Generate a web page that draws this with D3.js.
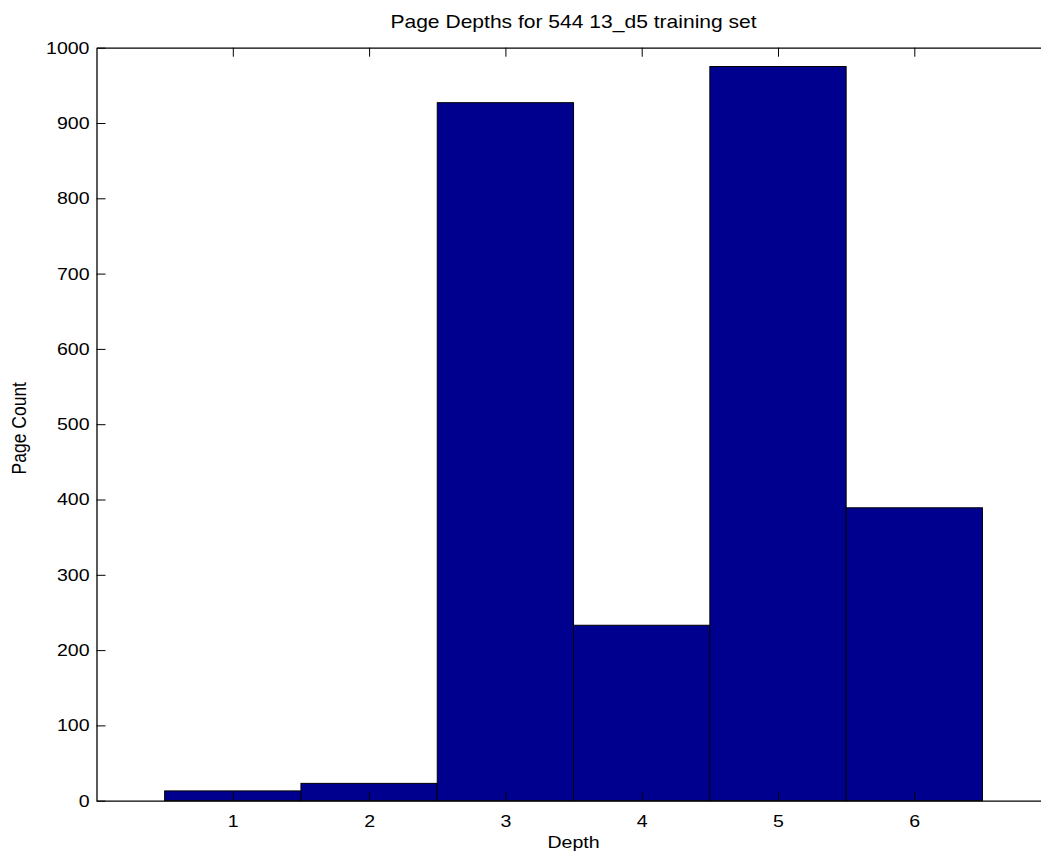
<!DOCTYPE html>
<html>
<head>
<meta charset="utf-8">
<script src="https://cdn.jsdelivr.net/npm/d3@7"></script>
<style>
  html, body { margin: 0; padding: 0; background: #fff; overflow: hidden; }
  svg { display: block; font-family: "Liberation Sans", Arial, sans-serif; }
</style>
</head>
<body>
<svg id="chart" width="1041" height="854"></svg>
<script>
// Histogram of page depths
const depths = [1, 2, 3, 4, 5, 6];
const pageCounts = [13, 23, 927, 233, 975, 389];
const yTicks = [0, 100, 200, 300, 400, 500, 600, 700, 800, 900, 1000];
const titleText = "Page Depths for 544 13_d5 training set";
const xLabel = "Depth";
const yLabel = "Page Count";

const svg = d3.select("#chart");
const plotLeft = 96.5, plotRight = 1050.6, plotTop = 47.7, plotBottom = 800.7;
const stretch = 1.15; // text is set slightly wide

const x = d3.scaleLinear().domain([0, 7]).range([plotLeft, plotRight]);
const y = d3.scaleLinear().domain([0, 1000]).range([plotBottom, plotTop]);

// bars
svg.append("g").selectAll("rect")
  .data(depths)
  .join("rect")
  .attr("x", d => x(d - 0.5))
  .attr("width", d => x(d + 0.5) - x(d - 0.5))
  .attr("y", (d, i) => y(pageCounts[i]))
  .attr("height", (d, i) => y(0) - y(pageCounts[i]))
  .attr("fill", "#00008f")
  .attr("stroke", "#000")
  .attr("stroke-width", 1);

const tickLen = 9;
const tickFont = 17;
const fmt = d3.format("d");

// axes with inward ticks
const xAxisB = d3.axisBottom(x).tickValues(depths).tickFormat(fmt).tickSizeInner(-tickLen).tickSizeOuter(0).tickPadding(14);
const xAxisT = d3.axisTop(x).tickValues(depths).tickSizeInner(-tickLen).tickSizeOuter(0).tickFormat("");
const yAxisL = d3.axisLeft(y).tickValues(yTicks).tickFormat(fmt).tickSizeInner(-tickLen).tickSizeOuter(0).tickPadding(7);
const yAxisR = d3.axisRight(y).tickValues(yTicks).tickSizeInner(-tickLen).tickSizeOuter(0).tickFormat("");

function style(g) {
  g.attr("font-size", null).attr("font-family", null);
  g.selectAll("path.domain").attr("stroke", "#000").attr("stroke-width", 1.3);
  g.selectAll(".tick line").attr("stroke", "#000").attr("stroke-width", 1);
  g.selectAll(".tick text").each(function () {
    const t = d3.select(this);
    const tx = +t.attr("x") || 0;
    t.attr("x", 0)
      .attr("transform", `translate(${tx},0) scale(${stretch},1)`)
      .attr("fill", "#000")
      .style("font-size", tickFont + "px");
  });
}

svg.append("g").attr("transform", `translate(0,${plotBottom})`).call(xAxisB).call(style);
svg.append("g").attr("transform", `translate(0,${plotTop})`).call(xAxisT).call(style);
svg.append("g").attr("transform", `translate(${plotLeft},0)`).call(yAxisL).call(style);
svg.append("g").attr("transform", `translate(${plotRight},0)`).call(yAxisR).call(style);

// title and axis labels
svg.append("text")
  .attr("transform", `translate(${(plotLeft + plotRight) / 2},28) scale(1.17,1)`)
  .attr("text-anchor", "middle").style("font-size", "18px")
  .text(titleText);

svg.append("text")
  .attr("transform", `translate(${(plotLeft + plotRight) / 2},848) scale(${stretch},1)`)
  .attr("text-anchor", "middle").style("font-size", "17px")
  .text(xLabel);

svg.append("text")
  .attr("transform", `translate(26,${(plotTop + plotBottom) / 2 + 4}) scale(${stretch},1) rotate(-90)`)
  .attr("text-anchor", "middle").style("font-size", "17.5px")
  .text(yLabel);
</script>
</body>
</html>
